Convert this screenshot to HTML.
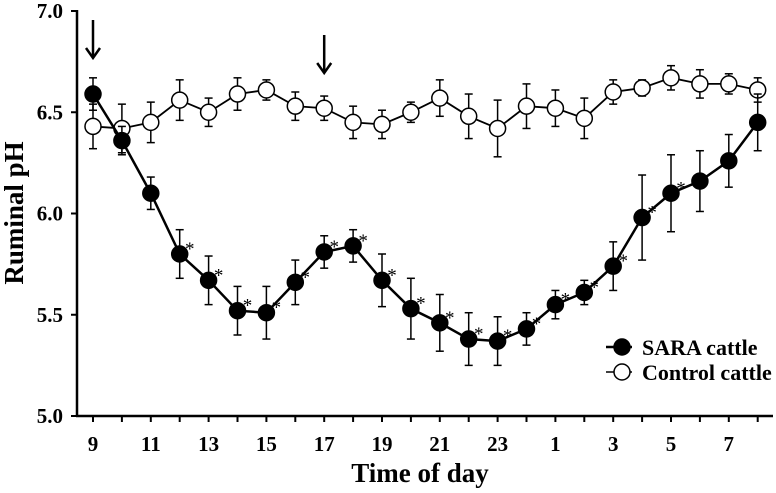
<!DOCTYPE html>
<html><head><meta charset="utf-8"><style>
html,body{margin:0;padding:0;background:#fff;}
svg{display:block;font-family:"Liberation Serif",serif;font-weight:bold;}
</style></head><body>
<svg id="chart" width="776" height="493" viewBox="0 0 776 493" xmlns="http://www.w3.org/2000/svg"></svg>
<script>
const hours = [9,10,11,12,13,14,15,16,17,18,19,20,21,22,23,24,1,2,3,4,5,6,7,8];
const tickLabels = ["9","11","13","15","17","19","21","23","1","3","5","7"];
const yTicks = [5.0,5.5,6.0,6.5,7.0];
const saraValues = [6.59,6.36,6.10,5.80,5.67,5.52,5.51,5.66,5.81,5.84,5.67,5.53,5.46,5.38,5.37,5.43,5.55,5.61,5.74,5.98,6.10,6.16,6.26,6.45];
const saraErrors = [0.08,0.07,0.08,0.12,0.12,0.12,0.13,0.11,0.08,0.08,0.13,0.15,0.14,0.13,0.12,0.08,0.07,0.06,0.12,0.21,0.19,0.15,0.13,0.14];
const controlValues = [6.43,6.42,6.45,6.56,6.50,6.59,6.61,6.53,6.52,6.45,6.44,6.50,6.57,6.48,6.42,6.53,6.52,6.47,6.60,6.62,6.67,6.64,6.64,6.61];
const controlErrors = [0.11,0.12,0.10,0.10,0.07,0.08,0.05,0.07,0.06,0.08,0.07,0.05,0.09,0.11,0.14,0.11,0.09,0.10,0.06,0.04,0.06,0.07,0.05,0.06];
const significant = [0,0,0,1,1,1,1,1,1,1,1,1,1,1,1,1,1,1,1,1,1,0,0,0];
const arrowIndices = [0,8];

const svg = document.getElementById('chart');
const NS = 'http://www.w3.org/2000/svg';
const x = i => 93 + i * 28.9;
const y = v => 416 - (v - 5.0) * 202.5;
function mk(tag, attrs, parent){const e=document.createElementNS(NS,tag);for(const k in attrs)e.setAttribute(k,attrs[k]);(parent||svg).appendChild(e);return e;}

const yAxis = mk('line',{x1:77,y1:10,x2:77,y2:417,stroke:'#000','stroke-width':2.5});


const xAxis = mk('line',{x1:76,y1:416,x2:773,y2:416,stroke:'#000','stroke-width':2.5});


yTicks.forEach(v=>{
  mk('line',{x1:71,y1:y(v),x2:77,y2:y(v),stroke:'#000','stroke-width':2});
  const t=mk('text',{x:63,y:y(v)+7,'text-anchor':'end','font-size':21});
  t.textContent=v.toFixed(1);
  
  
});
for(let i=0;i<=hours.length;i++){
  mk('line',{x1:x(i),y1:416,x2:x(i),y2:422,stroke:'#000','stroke-width':2});
}
tickLabels.forEach((lab,j)=>{
  const t=mk('text',{x:x(j*2),y:451,'text-anchor':'middle','font-size':21});
  t.textContent=lab;
  
  
});
const xt=mk('text',{x:420,y:482,'text-anchor':'middle','font-size':27});
xt.textContent='Time of day';


const yt=mk('text',{x:0,y:0,'text-anchor':'middle','font-size':27,transform:'translate(23,213) rotate(-90)'});
yt.textContent='Ruminal pH';



function series(vals, errs, fill, name){
  const g=mk('g',{});
  
  
  vals.forEach((v,i)=>{
    const top=y(v+errs[i]), bot=y(v-errs[i]);
    mk('line',{x1:x(i),y1:top,x2:x(i),y2:bot,stroke:'#000','stroke-width':1.5},g);
    mk('line',{x1:x(i)-4,y1:top,x2:x(i)+4,y2:top,stroke:'#000','stroke-width':1.5},g);
    mk('line',{x1:x(i)-4,y1:bot,x2:x(i)+4,y2:bot,stroke:'#000','stroke-width':1.5},g);
  });
  mk('polyline',{points:vals.map((v,i)=>x(i)+','+y(v)).join(' '),fill:'none',stroke:'#000','stroke-width':fill==='#000'?2.5:1.8},g);
  vals.forEach((v,i)=>{
    const c=mk('circle',{cx:x(i),cy:y(v),r:8,fill:fill,stroke:'#000','stroke-width':1.5},g);
    
    
  });
}
series(controlValues,controlErrors,'#fff','control');
series(saraValues,saraErrors,'#000','sara');
saraValues.forEach((v,i)=>{
  if(!significant[i])return;
  const t=mk('text',{x:x(i)+10,y:y(v)+1,'text-anchor':'middle','font-size':19,'font-weight':'normal'});
  t.textContent='*';
  
  
});
arrowIndices.forEach((idx,k)=>{
  const top=k===0?20:35, bot=k===0?58:73;
  const g=mk('g',{});
  
  
  mk('line',{x1:x(idx),y1:top,x2:x(idx),y2:bot-2,stroke:'#000','stroke-width':2.5},g);
  mk('polyline',{points:(x(idx)-7)+','+(bot-10)+' '+x(idx)+','+bot+' '+(x(idx)+7)+','+(bot-10),fill:'none',stroke:'#000','stroke-width':2.5},g);
});
const lg=mk('g',{});


[['SARA cattle','#000',347,2.5],['Control cattle','#fff',372,1.5]].forEach(([lab,fill,ly,sw])=>{
  const e=mk('g',{},lg);
  
  
  mk('line',{x1:606,y1:ly,x2:632,y2:ly,stroke:'#000','stroke-width':sw},e);
  mk('circle',{cx:622,cy:ly,r:8,fill:fill,stroke:'#000','stroke-width':1.5},e);
  const t=mk('text',{x:642,y:ly+8,'font-size':22},e);
  t.textContent=lab;
});
</script>
</body></html>
